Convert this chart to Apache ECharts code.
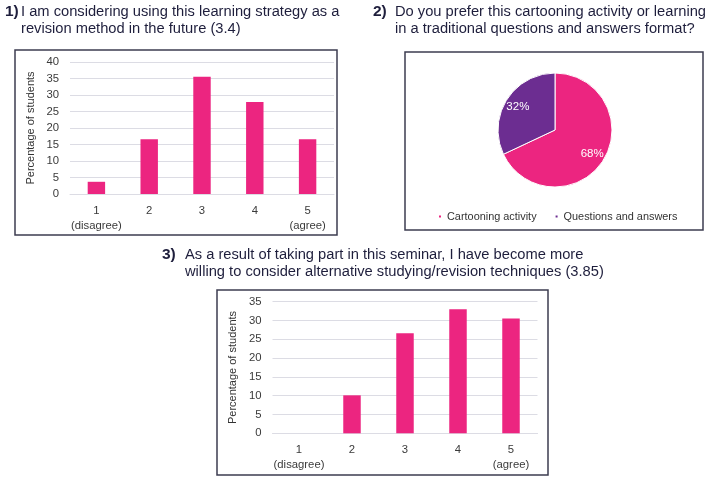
<!DOCTYPE html>
<html>
<head>
<meta charset="utf-8">
<script src="https://cdn.jsdelivr.net/npm/echarts@6/dist/echarts.min.js"></script>
<style>
  html, body { margin: 0; padding: 0; background: #fff; }
  #main { width: 709px; height: 479px; }
</style>
</head>
<body>
<div id="main"></div>
<script>
// 数据
var scaleLabels = ['1\n(disagree)', '2', '3', '4', '5\n(agree)'];
var strategyValues = [3.7, 16.6, 35.5, 27.9, 16.6];   // 1) 学习策略
var willingValues = [0, 10.1, 26.6, 33.0, 30.5];       // 3) 研讨会后
var pieNames = ['Cartooning activity', 'Questions and answers'];
var pieValues = [68, 32];

var pink = '#EC2580';
var purple = '#6C2D91';
var navy = '#1e1e3c';
var font = 'Liberation Sans, Arial, sans-serif';

var myChart = echarts.init(document.getElementById('main'));

// 标题文字
function titleText(text, left, top, bold) {
    return {
        text: text,
        left: left,
        top: top,
        padding: 0,
        textStyle: {
            color: navy,
            fontFamily: font,
            fontSize: bold ? 15.5 : 14.7,
            fontWeight: bold ? 'bold' : 'normal',
            lineHeight: 17
        }
    };
}

// 面板边框
function box(x, y, w, h) {
    return {
        type: 'rect',
        shape: { x: x, y: y, width: w, height: h },
        style: { fill: 'none', stroke: '#3c3c50', lineWidth: 1.5 },
        silent: true
    };
}

function barXAxis(gridIndex) {
    return {
        type: 'category',
        gridIndex: gridIndex,
        data: scaleLabels,
        axisTick: { show: false },
        axisLine: { lineStyle: { color: '#dcdce4' } },
        axisLabel: {
            color: '#3a3a3a',
            fontFamily: font,
            fontSize: 11.3,
            lineHeight: 15,
            margin: 9,
            interval: 0
        }
    };
}

function barYAxis(gridIndex, max) {
    return {
        type: 'value',
        gridIndex: gridIndex,
        min: 0,
        max: max,
        interval: 5,
        name: 'Percentage of students',
        nameLocation: 'middle',
        nameRotate: 90,
        nameGap: 34,
        nameTextStyle: { color: '#333', fontFamily: font, fontSize: 11 },
        axisLine: { show: false },
        axisTick: { show: false },
        axisLabel: { color: '#3a3a3a', fontFamily: font, fontSize: 11.3, margin: 11 },
        splitLine: { lineStyle: { color: '#dcdce4' } }
    };
}

var option = {
    backgroundColor: '#fff',
    animation: false,
    title: [
        titleText('1)', 5, 3, true),
        titleText('I am considering using this learning strategy as a\nrevision method in the future (3.4)', 21, 3),
        titleText('2)', 373, 3, true),
        titleText('Do you prefer this cartooning activity or learning\nin a traditional questions and answers format?', 395, 3),
        titleText('3)', 162, 246, true),
        titleText('As a result of taking part in this seminar, I have become more\nwilling to consider alternative studying/revision techniques (3.85)', 185, 246)
    ],
    graphic: [
        box(15, 50, 322, 185),
        box(405, 52, 298, 178),
        box(217, 290, 331, 185)
    ],
    grid: [
        { left: 70, top: 62, width: 264, height: 132 },
        { left: 272.5, top: 301.7, width: 265, height: 131.6 }
    ],
    xAxis: [barXAxis(0), barXAxis(1)],
    yAxis: [barYAxis(0, 40), barYAxis(1, 35)],
    legend: {
        data: pieNames,
        left: 437,
        top: 211,
        padding: 0,
        icon: 'rect',
        itemWidth: 4,
        itemHeight: 4,
        itemGap: 17,
        textStyle: { color: '#333', fontFamily: font, fontSize: 10.9 }
    },
    series: [
        {
            type: 'bar',
            xAxisIndex: 0,
            yAxisIndex: 0,
            data: strategyValues,
            barWidth: '33%',
            itemStyle: { color: pink }
        },
        {
            type: 'bar',
            xAxisIndex: 1,
            yAxisIndex: 1,
            data: willingValues,
            barWidth: '33%',
            itemStyle: { color: pink }
        },
        {
            name: 'pie',
            type: 'pie',
            center: [555, 130],
            radius: 57,
            startAngle: 90,
            percentPrecision: 0,
            label: { show: false },
            labelLine: { show: false },
            itemStyle: { borderColor: '#fff', borderWidth: 1 },
            emphasis: { disabled: true },
            data: pieNames.map(function (n, i) {
                return { name: n, value: pieValues[i], itemStyle: { color: i === 0 ? pink : purple } };
            })
        },
        {
            //只用来放百分比文字
            name: 'pieLabel',
            type: 'pie',
            center: [555, 130],
            radius: 82,
            startAngle: 90,
            percentPrecision: 0,
            silent: true,
            z: 5,
            itemStyle: { color: 'rgba(0,0,0,0)' },
            label: {
                show: true,
                position: 'inside',
                formatter: '{d}%',
                color: '#fff',
                fontFamily: font,
                fontSize: 11.5
            },
            labelLine: { show: false },
            emphasis: { disabled: true },
            data: pieNames.map(function (n, i) {
                return { name: n, value: pieValues[i] };
            })
        }
    ]
};

myChart.setOption(option);
</script>
</body>
</html>
